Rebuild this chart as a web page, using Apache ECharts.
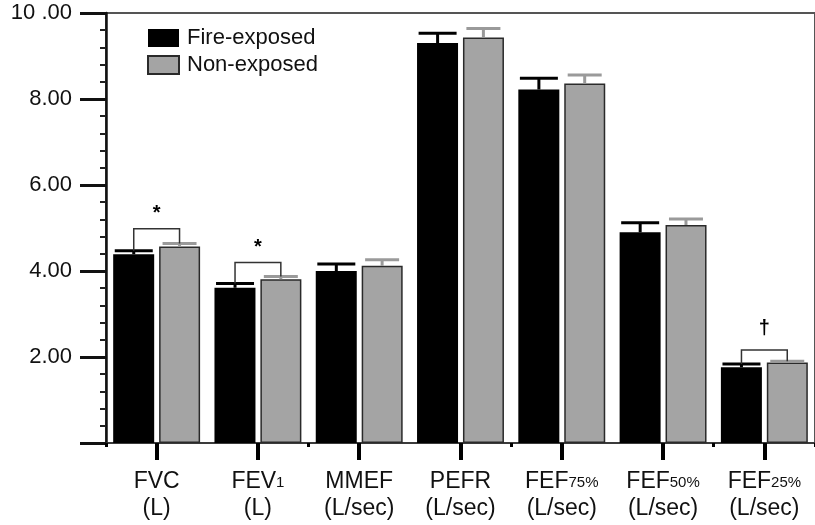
<!DOCTYPE html>
<html>
<head>
<meta charset="utf-8">
<script src="https://cdn.jsdelivr.net/npm/echarts@6/dist/echarts.min.js"></script>
<style>
html,body{margin:0;padding:0;background:#fff;}
#chart{width:815px;height:525px;}
</style>
</head>
<body>
<div id="chart"></div>
<script>
// ---- data ----
const categories = ['FVC (L)', 'FEV1 (L)', 'MMEF (L/sec)', 'PEFR (L/sec)', 'FEF75% (L/sec)', 'FEF50% (L/sec)', 'FEF25% (L/sec)'];
const labelMain = ['FVC', 'FEV', 'MMEF', 'PEFR', 'FEF', 'FEF', 'FEF'];
const labelSub = ['', '1', '', '', '75%', '50%', '25%'];
const labelUnit = ['(L)', '(L)', '(L/sec)', '(L/sec)', '(L/sec)', '(L/sec)', '(L/sec)'];
const seriesNames = ['Fire-exposed', 'Non-exposed'];
const fireExposed = [4.39, 3.61, 4.00, 9.30, 8.22, 4.90, 1.76];
const fireErr = [0.08, 0.10, 0.16, 0.23, 0.26, 0.22, 0.08];
const nonExposed = [4.57, 3.81, 4.12, 9.43, 8.36, 5.07, 1.87];
const nonErr = [0.07, 0.06, 0.14, 0.21, 0.20, 0.14, 0.03];
const sigIndex = [0, 1, 6];
const sigTop = [4.98, 4.20, 2.16];
const sigMark = ['*', '*', '\u2020'];
const sigMarkValue = [5.34, 4.55, 2.67];
const yTicks = [0, 2, 4, 6, 8, 10];
const yTickLabels = ['', '2.00', '4.00', '6.00', '8.00', '10 .00'];

// ---- styling constants ----
const FONT = "'Liberation Sans', Arial, sans-serif";
const BAR_W = 41;
const OFFSET = 22.9;

const chart = echarts.init(document.getElementById('chart'), null, {renderer: 'canvas'});

function errRender(offset, color, hw) {
  return function (params, api) {
    const i = api.value(0), v = api.value(1), e = api.value(2);
    const base = api.coord([i, v]);
    const top = api.coord([i, v + e]);
    const x = base[0] + offset;
    return {
      type: 'group',
      children: [
        {type: 'line', shape: {x1: x, y1: base[1], x2: x, y2: top[1]}, style: {stroke: color, lineWidth: 3}},
        {type: 'line', shape: {x1: x - hw, y1: top[1], x2: x + hw, y2: top[1]}, style: {stroke: color, lineWidth: 3}}
      ]
    };
  };
}

const errFire = fireExposed.map((v, i) => [i, v, fireErr[i]]);
const errNon = nonExposed.map((v, i) => [i, v, nonErr[i]]);
const sigData = sigIndex.map((ci, k) => [ci, sigTop[k], sigMarkValue[k], k]);

chart.setOption({
  animation: false,
  backgroundColor: '#fff',
  grid: {left: 106, top: 13, width: 713, height: 430, show: true, borderColor: '#555', borderWidth: 2, containLabel: false},
  legend: {
    orient: 'vertical', left: 147, top: 27, padding: 0,
    itemWidth: 31, itemHeight: 18, itemGap: 5,
    data: seriesNames,
    icon: 'rect',
    textStyle: {fontSize: 22, fontFamily: FONT, color: '#111', padding: [0, 0, 0, 3]}
  },
  xAxis: [{
    type: 'category', data: categories, position: 'bottom',
    axisLine: {show: true, lineStyle: {color: '#333', width: 1.5}},
    axisTick: {show: true, alignWithLabel: true, length: 17, lineStyle: {color: '#000', width: 4}},
    axisLabel: {
      interval: 0, margin: 23,
      formatter: function (val, idx) {
        const sub = labelSub[idx] ? '{s|' + labelSub[idx] + '}' : '';
        return '{m|' + labelMain[idx] + '}' + sub + '\n{m|' + labelUnit[idx] + '}';
      },
      rich: {
        m: {fontSize: 23, fontFamily: FONT, color: '#111', lineHeight: 27, verticalAlign: 'bottom'},
        s: {fontSize: 15, fontFamily: FONT, color: '#111', lineHeight: 15, verticalAlign: 'bottom', padding: [0, 0, 3, 0]}
      }
    },
    splitLine: {show: false}
  }, {
    type: 'category', data: categories, position: 'top', offset: -430,
    axisLine: {show: false},
    axisTick: {show: true, inside: true, alignWithLabel: false, length: 4, lineStyle: {color: '#000', width: 3}},
    axisLabel: {show: false},
    splitLine: {show: false}
  }],
  yAxis: {
    type: 'value', min: 0, max: 10, interval: 2,
    axisLine: {show: true, lineStyle: {color: '#111', width: 2.5}},
    axisTick: {show: true, length: 26, lineStyle: {color: '#111', width: 3}},
    minorTick: {show: true, splitNumber: 5, length: 6, lineStyle: {color: '#222', width: 2}},
    axisLabel: {
      margin: 34, fontSize: 22, color: '#111', fontFamily: FONT,
      formatter: function (v) { const k = yTicks.indexOf(v); return k >= 0 ? yTickLabels[k] : ''; }
    },
    splitLine: {show: false},
    minorSplitLine: {show: false}
  },
  series: [{
    name: seriesNames[0], type: 'bar', data: fireExposed,
    barWidth: BAR_W, barGap: '12%',
    itemStyle: {color: '#000'}, z: 2
  }, {
    name: seriesNames[1], type: 'bar', data: nonExposed,
    barWidth: BAR_W, barGap: '12%',
    itemStyle: {color: '#a4a4a4', borderColor: '#2a2a2a', borderWidth: 1.5}, z: 2
  }, {
    type: 'custom', data: errFire, encode: {x: 0, y: 1}, z: 5,
    renderItem: errRender(-OFFSET, '#000', 19)
  }, {
    type: 'custom', data: errNon, encode: {x: 0, y: 1}, z: 5,
    renderItem: errRender(OFFSET, '#9a9a9a', 17)
  }, {
    type: 'custom', data: sigData, encode: {x: 0, y: 1}, z: 6,
    renderItem: function (params, api) {
      const ci = api.value(0), topV = api.value(1), markV = api.value(2), k = api.value(3);
      const tp = api.coord([ci, topV]);
      const lp = api.coord([ci, fireExposed[ci] + fireErr[ci]]);
      const rp = api.coord([ci, nonExposed[ci] + nonErr[ci]]);
      const mp = api.coord([ci, markV]);
      const xl = tp[0] - OFFSET, xr = tp[0] + OFFSET;
      return {
        type: 'group',
        children: [
          {type: 'polyline', shape: {points: [[xl, lp[1]], [xl, tp[1]], [xr, tp[1]], [xr, rp[1]]]},
           style: {stroke: '#333', lineWidth: 1.5, fill: null}},
          {type: 'text', x: tp[0], y: mp[1],
           style: {text: sigMark[k], fill: '#000', fontSize: k === 2 ? 20 : 20, fontWeight: 'bold',
                   fontFamily: FONT, align: 'center', verticalAlign: 'middle'}}
        ]
      };
    }
  }]
});
</script>
</body>
</html>
